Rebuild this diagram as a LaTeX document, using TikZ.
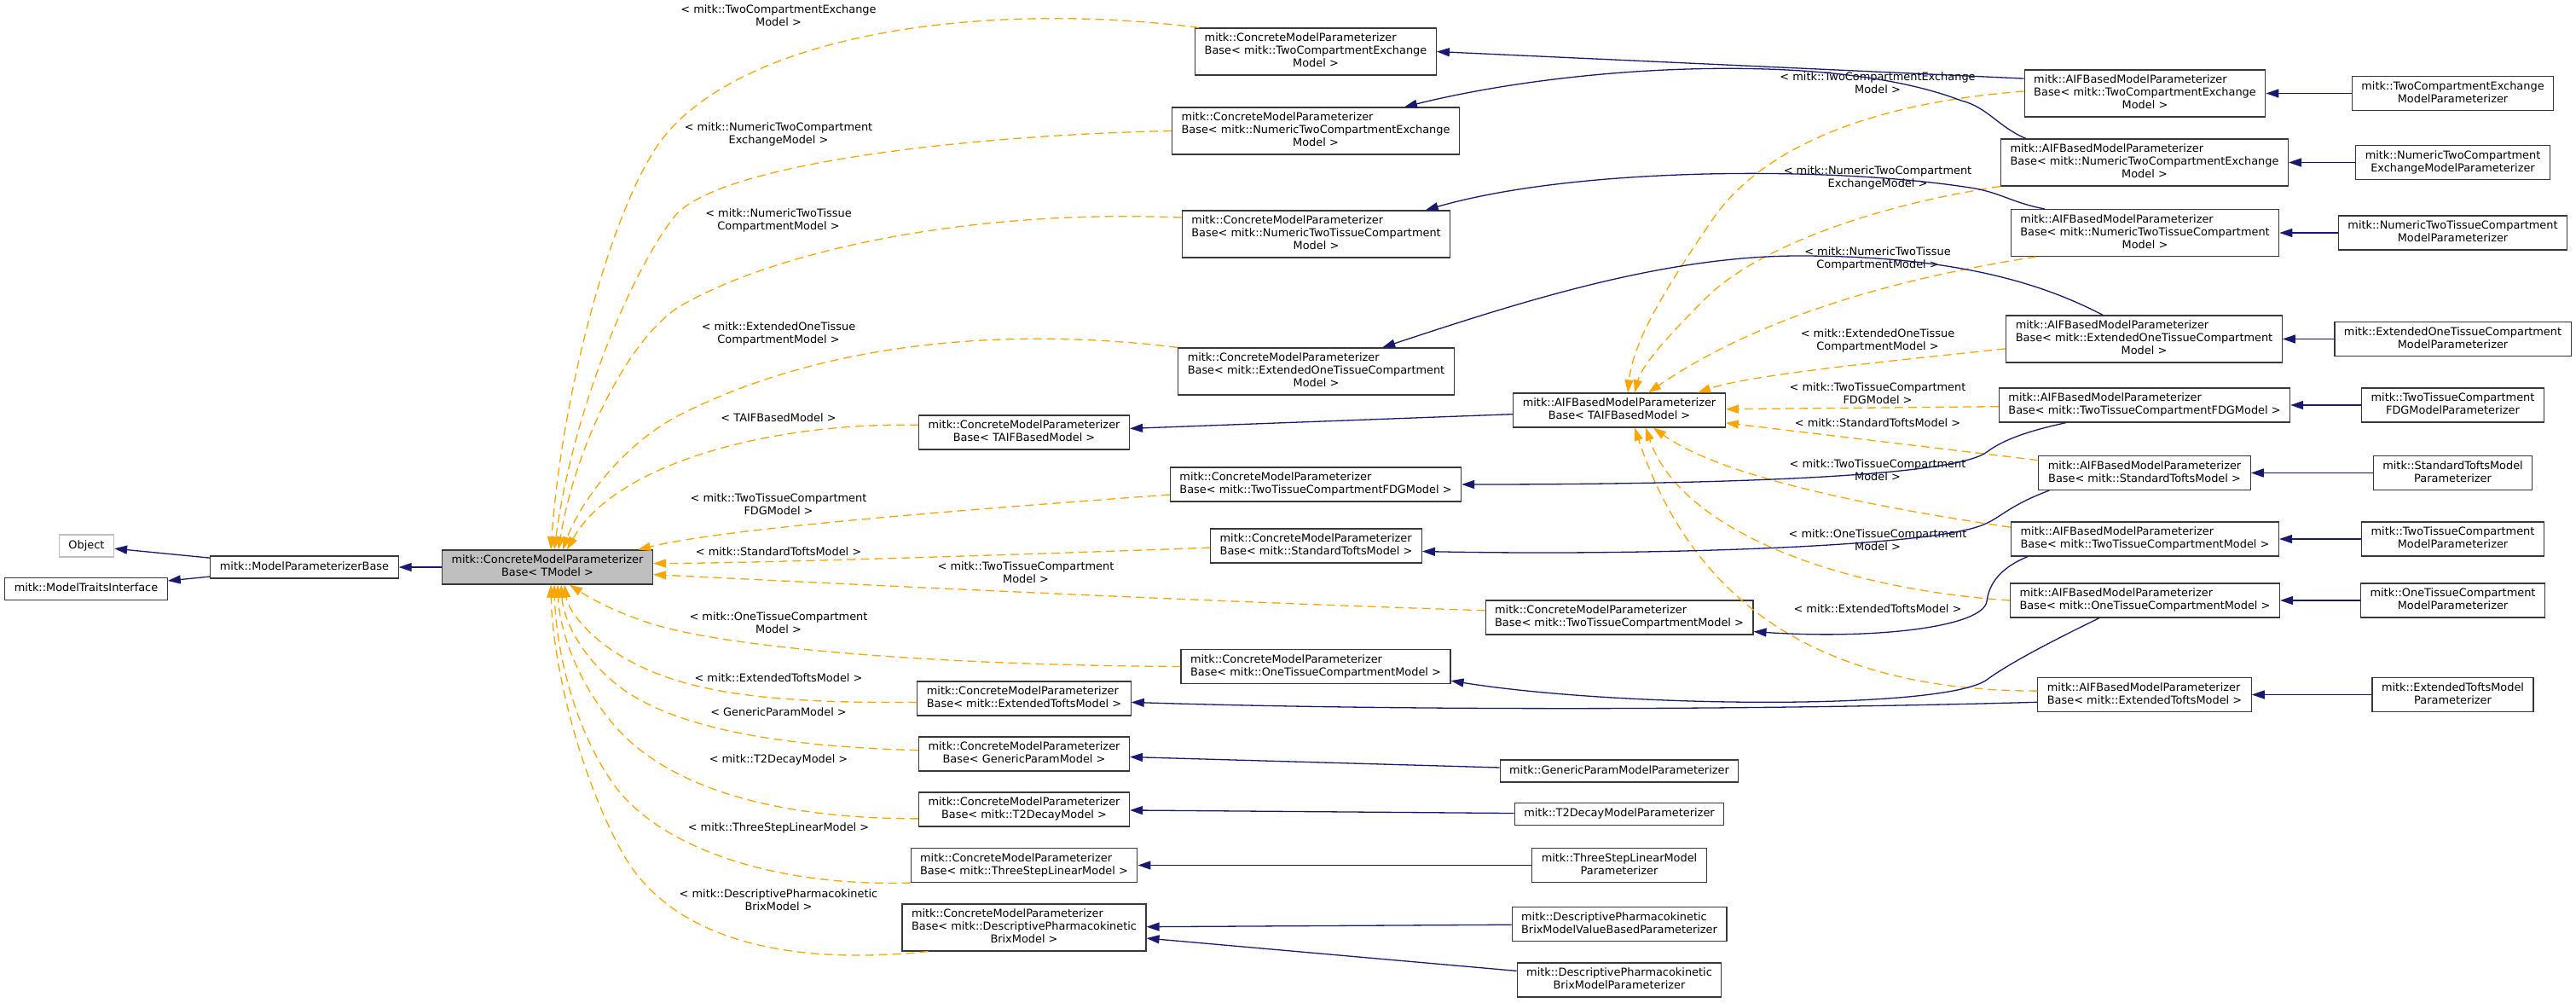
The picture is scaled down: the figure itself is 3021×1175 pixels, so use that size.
\documentclass[tikz,border=0pt]{standalone}
\usepackage{fontspec}
\setmainfont{DejaVu Sans}
\usetikzlibrary{arrows.meta}
\definecolor{navy}{HTML}{191970}
\definecolor{orng}{HTML}{FFA500}
\newcommand{\nf}{\fontsize{12.9pt}{15pt}\selectfont}
\newcommand{\onel}[1]{\begin{tabular}{@{}c@{}}#1\end{tabular}}
\newcommand{\twol}[2]{\begin{tabular}{@{}l@{}}#1\\\multicolumn{1}{@{}c@{}}{#2}\end{tabular}}
\newcommand{\threel}[3]{\begin{tabular}{@{}l@{}}#1\\#2\\\multicolumn{1}{@{}c@{}}{#3}\end{tabular}}
\newcommand{\CMP}{mitk::ConcreteModelParameterizer}
\newcommand{\AMP}{mitk::AIFBasedModelParameterizer}
\tikzset{
 box/.style={draw=black!78, line width=1.2pt, fill=white, inner xsep=11pt, inner ysep=0pt, font=\nf},
 bone/.style={box, minimum height=26pt},
 btwo/.style={box, minimum height=40pt},
 bthree/.style={box, minimum height=55pt},
 inh/.style={draw=navy, line width=1.3pt, -{Triangle[length=15pt,width=10pt]}},
 tmpl/.style={draw=orng, line width=1.3pt, dash pattern=on 10pt off 6pt, -{Triangle[length=15pt,width=10pt]}},
 lab/.style={font=\nf, align=center, inner sep=0pt}
}
\begin{document}
\begin{tikzpicture}[x=1pt,y=-1pt]
\useasboundingbox[fill=white] (0,0) rectangle (3021,1175);
% left part
\node[bone, draw=black!25] (obj) at (101.5,640) {\onel{Object}};
\node[bone] (mti) at (101,690.5) {\onel{mitk::ModelTraitsInterface}};
\node[bone] (mpb) at (357,665) {\onel{mitk::ModelParameterizerBase}};
\node[btwo, fill=black!25] (g) at (642,665) {\twol{\CMP}{Base< TModel >}};
% concrete instances
\node[bthree] (c1) at (1543,60.5) {\threel{\CMP}{Base< mitk::TwoCompartmentExchange}{Model >}};
\node[bthree] (c2) at (1543,153.5) {\threel{\CMP}{Base< mitk::NumericTwoCompartmentExchange}{Model >}};
\node[bthree] (c3) at (1543.5,274.5) {\threel{\CMP}{Base< mitk::NumericTwoTissueCompartment}{Model >}};
\node[bthree] (c4) at (1543.5,435.5) {\threel{\CMP}{Base< mitk::ExtendedOneTissueCompartment}{Model >}};
\node[btwo] (c5) at (1201,507) {\twol{\CMP}{Base< TAIFBasedModel >}};
\node[btwo] (c6) at (1543,568) {\twol{\CMP}{Base< mitk::TwoTissueCompartmentFDGModel >}};
\node[btwo] (c7) at (1543.5,640) {\twol{\CMP}{Base< mitk::StandardToftsModel >}};
\node[btwo] (c8) at (1899,724) {\twol{\CMP}{Base< mitk::TwoTissueCompartmentModel >}};
\node[btwo] (c9) at (1543,781.5) {\twol{\CMP}{Base< mitk::OneTissueCompartmentModel >}};
\node[btwo] (c10) at (1201,819) {\twol{\CMP}{Base< mitk::ExtendedToftsModel >}};
\node[btwo] (c11) at (1201,884) {\twol{\CMP}{Base< GenericParamModel >}};
\node[btwo] (c12) at (1201,949) {\twol{\CMP}{Base< mitk::T2DecayModel >}};
\node[btwo] (c13) at (1201,1014.5) {\twol{\CMP}{Base< mitk::ThreeStepLinearModel >}};
\node[bthree] (c14) at (1201,1087.5) {\threel{\CMP}{Base< mitk::DescriptivePharmacokinetic}{BrixModel >}};
% AIF based
\node[btwo] (a0) at (1899,481) {\twol{\AMP}{Base< TAIFBasedModel >}};
\node[bthree] (a1) at (2515.5,109.5) {\threel{\AMP}{Base< mitk::TwoCompartmentExchange}{Model >}};
\node[bthree] (a2) at (2515,190.5) {\threel{\AMP}{Base< mitk::NumericTwoCompartmentExchange}{Model >}};
\node[bthree] (a3) at (2515.5,273) {\threel{\AMP}{Base< mitk::NumericTwoTissueCompartment}{Model >}};
\node[bthree] (a4) at (2514.5,397.5) {\threel{\AMP}{Base< mitk::ExtendedOneTissueCompartment}{Model >}};
\node[btwo] (a5) at (2515,475) {\twol{\AMP}{Base< mitk::TwoTissueCompartmentFDGModel >}};
\node[btwo] (a6) at (2515,554.5) {\twol{\AMP}{Base< mitk::StandardToftsModel >}};
\node[btwo] (a7) at (2515.5,632) {\twol{\AMP}{Base< mitk::TwoTissueCompartmentModel >}};
\node[btwo] (a8) at (2515.5,704) {\twol{\AMP}{Base< mitk::OneTissueCompartmentModel >}};
\node[btwo] (a9) at (2515,814.5) {\twol{\AMP}{Base< mitk::ExtendedToftsModel >}};
% leaves
\node[btwo] (l1) at (2876.5,109.5) {\twol{mitk::TwoCompartmentExchange}{ModelParameterizer}};
\node[btwo] (l2) at (2876.5,190.5) {\twol{mitk::NumericTwoCompartment}{ExchangeModelParameterizer}};
\node[btwo] (l3) at (2876.5,273) {\twol{mitk::NumericTwoTissueCompartment}{ModelParameterizer}};
\node[btwo] (l4) at (2876.5,397.5) {\twol{mitk::ExtendedOneTissueCompartment}{ModelParameterizer}};
\node[btwo] (l5) at (2876.5,475) {\twol{mitk::TwoTissueCompartment}{FDGModelParameterizer}};
\node[btwo] (l6) at (2876.5,554.5) {\twol{mitk::StandardToftsModel}{Parameterizer}};
\node[btwo] (l7) at (2876.5,632) {\twol{mitk::TwoTissueCompartment}{ModelParameterizer}};
\node[btwo] (l8) at (2876.5,704) {\twol{mitk::OneTissueCompartment}{ModelParameterizer}};
\node[btwo] (l9) at (2876.5,814.5) {\twol{mitk::ExtendedToftsModel}{Parameterizer}};
\node[bone] (l10) at (1899,904) {\onel{mitk::GenericParamModelParameterizer}};
\node[bone] (l11) at (1899,954.5) {\onel{mitk::T2DecayModelParameterizer}};
\node[btwo] (l12) at (1899,1014.5) {\twol{mitk::ThreeStepLinearModel}{Parameterizer}};
\node[btwo] (l13) at (1899,1083.5) {\twol{mitk::DescriptivePharmacokinetic}{BrixModelValueBasedParameterizer}};
\node[btwo] (l14) at (1899,1149) {\twol{mitk::DescriptivePharmacokinetic}{BrixModelParameterizer}};
% edge labels (left group)
\node[lab] (ll1) at (913,18.5) {< mitk::TwoCompartmentExchange\\Model >};
\node[lab] (ll2) at (913,157) {< mitk::NumericTwoCompartment\\ExchangeModel >};
\node[lab] (ll3) at (913,258) {< mitk::NumericTwoTissue\\CompartmentModel >};
\node[lab] (ll4) at (913,391) {< mitk::ExtendedOneTissue\\CompartmentModel >};
\node[lab] (ll5) at (913,490) {< TAIFBasedModel >};
\node[lab] (ll6) at (913,591) {< mitk::TwoTissueCompartment\\FDGModel >};
\node[lab] (ll7) at (913,647) {< mitk::StandardToftsModel >};
\node[lab] (ll8) at (1203,671) {< mitk::TwoTissueCompartment\\Model >};
\node[lab] (ll9) at (913,730.5) {< mitk::OneTissueCompartment\\Model >};
\node[lab] (ll10) at (913,795) {< mitk::ExtendedToftsModel >};
\node[lab] (ll11) at (913,835) {< GenericParamModel >};
\node[lab] (ll12) at (913,891) {< mitk::T2DecayModel >};
\node[lab] (ll13) at (913,971) {< mitk::ThreeStepLinearModel >};
\node[lab] (ll14) at (913,1055.5) {< mitk::DescriptivePharmacokinetic\\BrixModel >};
% edge labels (right group)
\node[lab] (la1) at (2202,97.5) {< mitk::TwoCompartmentExchange\\Model >};
\node[lab] (la2) at (2202,208.5) {< mitk::NumericTwoCompartment\\ExchangeModel >};
\node[lab] (la3) at (2202,303.5) {< mitk::NumericTwoTissue\\CompartmentModel >};
\node[lab] (la4) at (2202,399.5) {< mitk::ExtendedOneTissue\\CompartmentModel >};
\node[lab] (la5) at (2202,461) {< mitk::TwoTissueCompartment\\FDGModel >};
\node[lab] (la6) at (2202,496) {< mitk::StandardToftsModel >};
\node[lab] (la7) at (2202,551) {< mitk::TwoTissueCompartment\\Model >};
\node[lab] (la8) at (2202,633.5) {< mitk::OneTissueCompartment\\Model >};
\node[lab] (la9) at (2202,714) {< mitk::ExtendedToftsModel >};
% base inheritance
\draw[inh] (g) -- (mpb);
\draw[inh] (mpb) -- (obj);
\draw[inh] (mpb) -- (mti);
% template instantiations -> g
\draw[tmpl] ([xshift=5pt]c1.north west) .. controls (1150,0) and (870,40) .. (775,165) .. controls (720,240) and (660,450) .. ([xshift=4pt]g.north);
\draw[tmpl] (c2.west) .. controls (1150,158) and (840,190) .. (790,255) .. controls (740,320) and (672,480) .. ([xshift=8pt]g.north);
\draw[tmpl] (c3.173) .. controls (1150,245) and (920,290) .. (801,357) .. controls (740,391) and (675,520) .. ([xshift=13pt]g.north);
\draw[tmpl] (c4.north west) .. controls (1200,385) and (980,395) .. (800,485) .. controls (730,520) and (680,590) .. ([xshift=18pt]g.north);
\draw[tmpl] (c5.176) .. controls (900,495) and (720,545) .. ([xshift=23pt]g.north);
\draw[tmpl] (c6.184) .. controls (1100,600) and (850,620) .. (g.11.5);
\draw[tmpl] (c7.181) .. controls (1200,650) and (900,660) .. (g.2);
\draw[tmpl] (c8.177.5) .. controls (1400,705) and (1000,685) .. (g.-4);
\draw[tmpl] (c9.west) .. controls (1100,780) and (850,760) .. (760,730) .. controls (715,715) and (690,700) .. ([xshift=26pt]g.south);
\draw[tmpl] (c10.182) .. controls (900,825) and (800,812) .. (730,770) .. controls (690,747) and (666,715) .. ([xshift=20pt]g.south);
\draw[tmpl] (c11.178.6) .. controls (900,875) and (780,850) .. (720,800) .. controls (684,770) and (661,730) .. ([xshift=16pt]g.south);
\draw[tmpl] (c12.185.5) .. controls (900,960) and (780,920) .. (720,850) .. controls (678,801) and (656,740) .. ([xshift=12pt]g.south);
\draw[tmpl] (c13.south west) .. controls (900,1040) and (770,990) .. (720,920) .. controls (672,853) and (652,760) .. ([xshift=8pt]g.south);
\draw[tmpl] ([xshift=31pt]c14.south west) .. controls (900,1135) and (780,1090) .. (730,1000) .. controls (680,910) and (648,780) .. ([xshift=4pt]g.south);
% template instantiations -> a0
\draw[tmpl] (a1.179) .. controls (2200,120) and (2070,170) .. (2010,255) .. controls (1955,335) and (1915,400) .. ([xshift=10pt]a0.north);
\draw[tmpl] (a2.south west) .. controls (2200,240) and (2060,290) .. (2000,350) .. controls (1950,400) and (1925,430) .. ([xshift=18pt]a0.north);
\draw[tmpl] ([xshift=30pt]a3.south west) .. controls (2200,330) and (2050,380) .. ([xshift=34pt]a0.north);
\draw[tmpl] (a4.184) .. controls (2200,425) and (2050,440) .. ([xshift=92pt]a0.north);
\draw[tmpl] (a5) -- (a0);
\draw[tmpl] (a6) -- (a0);
\draw[tmpl] (a7.175) .. controls (2200,595) and (2020,560) .. ([xshift=40pt]a0.south);
\draw[tmpl] (a8.west) .. controls (2150,690) and (1970,620) .. ([xshift=31pt]a0.south);
\draw[tmpl] (a9.178) .. controls (2150,810) and (1990,720) .. ([xshift=18pt]a0.south);
% AIF -> concrete
\draw[inh] (a0) -- (c5);
\draw[inh] (a1.173) -- (c1.east);
\draw[inh] ([xshift=30pt]a2.north west) .. controls (2345,150) and (2330,125) .. (2300,118) .. controls (2150,60) and (1850,75) .. ([xshift=273pt]c2.north west);
\draw[inh] ([xshift=40pt]a3.north west) .. controls (2360,238) and (2345,225) .. (2310,220) .. controls (2150,195) and (1850,195) .. ([xshift=286pt]c3.north west);
\draw[inh] ([xshift=114pt]a4.north west) .. controls (2400,335) and (2300,300) .. (2110,300) .. controls (1950,300) and (1780,355) .. ([xshift=240pt]c4.north west);
\draw[inh] ([xshift=79pt]a5.south west) .. controls (2380,505) and (2350,515) .. (2330,530) .. controls (2290,560) and (2000,568) .. (c6.east);
\draw[inh] ([xshift=13pt]a6.south west) .. controls (2350,595) and (2345,610) .. (2318,618) .. controls (2250,640) and (1950,652) .. (c7.-3);
\draw[inh] ([xshift=20pt]a7.south west) .. controls (2340,668) and (2332,690) .. (2330,705) .. controls (2326,735) and (2200,750) .. (c8.-6);
\draw[inh] ([xshift=105pt]a8.south west) .. controls (2420,745) and (2360,775) .. (2330,797) .. controls (2280,833) and (1900,830) .. (c9.-6);
\draw[inh] (a9.184) .. controls (2000,834) and (1600,832) .. (c10.-2);
% leaves
\foreach \i in {1,...,9} { \draw[inh] (l\i) -- (a\i); }
\draw[inh] (l10) -- (c11);
\draw[inh] (l11) -- (c12);
\draw[inh] (l12) -- (c13);
\draw[inh] (l13) -- (c14);
\draw[inh] (l14) -- (c14);
\end{tikzpicture}
\end{document}
